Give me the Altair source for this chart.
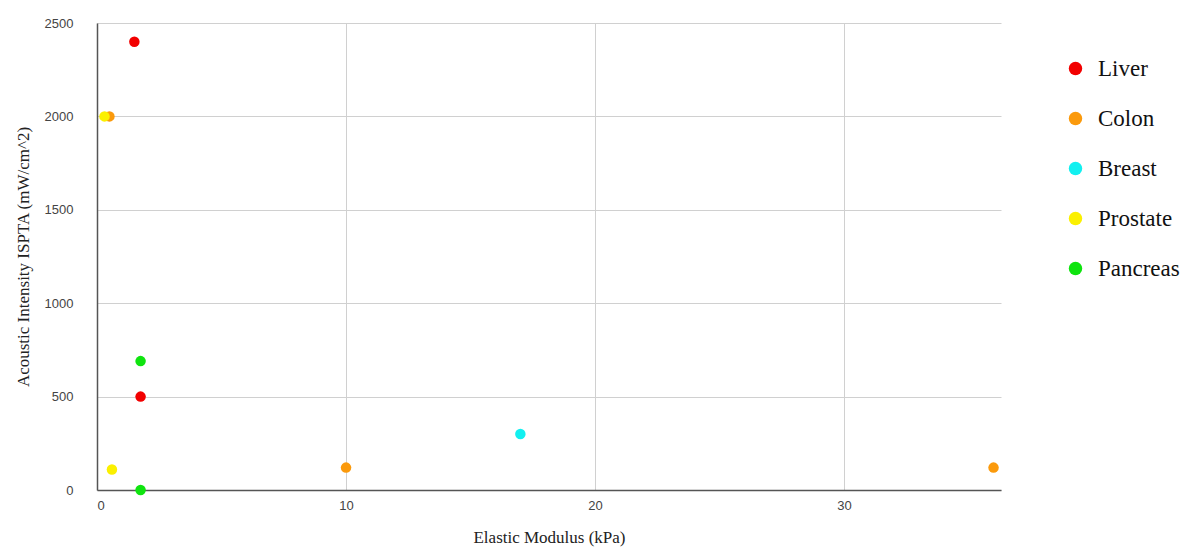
import altair as alt
import pandas as pd

tissues = ["Liver", "Liver", "Colon", "Colon", "Colon", "Breast", "Prostate", "Prostate", "Pancreas", "Pancreas"]
modulus = [1.5, 1.75, 0.5, 10, 36, 17, 0.3, 0.6, 1.75, 1.75]
intensity = [2400, 500, 2000, 120, 120, 300, 2000, 110, 690, 0]

categories = ["Liver", "Colon", "Breast", "Prostate", "Pancreas"]
colors = ["#f20000", "#fb9a0c", "#12f0f0", "#fbf000", "#0fe40f"]

df = pd.DataFrame({"Tissue": tissues, "Elastic Modulus (kPa)": modulus, "ISPTA": intensity})

serif = "Liberation Serif"
sans = "Liberation Sans"

chart = alt.Chart(df).mark_circle(size=110, opacity=1).encode(
    x=alt.X("Elastic Modulus (kPa):Q",
            scale=alt.Scale(domain=[0, 36.3], nice=False),
            axis=alt.Axis(values=[0, 10, 20, 30], title="Elastic Modulus (kPa)", format="d",
                          titleFont=serif, titleFontSize=17, titleFontWeight="normal",
                          titleColor="#222", titlePadding=17,
                          labelFont=sans, labelFontSize=13, labelColor="#444",
                          labelPadding=9, ticks=False, domainColor="#555", domainWidth=1.5,
                          gridColor="#d0d0d0")),
    y=alt.Y("ISPTA:Q",
            scale=alt.Scale(domain=[0, 2500], nice=False),
            axis=alt.Axis(values=[0, 500, 1000, 1500, 2000, 2500], format="d",
                          title="Acoustic Intensity ISPTA (mW/cm^2)",
                          titleFont=serif, titleFontSize=17, titleFontWeight="normal",
                          titleColor="#222", titlePadding=12,
                          labelFont=sans, labelFontSize=13, labelColor="#444",
                          labelPadding=24, ticks=False, domainColor="#555", domainWidth=1.5,
                          gridColor="#d0d0d0")),
    color=alt.Color("Tissue:N", scale=alt.Scale(domain=categories, range=colors),
                    sort=categories,
                    legend=alt.Legend(title=None, orient="none", legendX=967, legendY=34,
                                      labelFont=serif, labelFontSize=23, labelColor="#111",
                                      symbolType="circle", symbolSize=180, symbolStrokeWidth=0,
                                      rowPadding=26, labelOffset=11)),
).properties(
    width=904, height=467,
    autosize=alt.AutoSizeParams(type="none"),
    padding={"left": 89, "top": 15, "right": 184, "bottom": 61},
).configure_view(stroke=None)

chart.save("out.html", embed_options={"renderer": "svg", "actions": False})
